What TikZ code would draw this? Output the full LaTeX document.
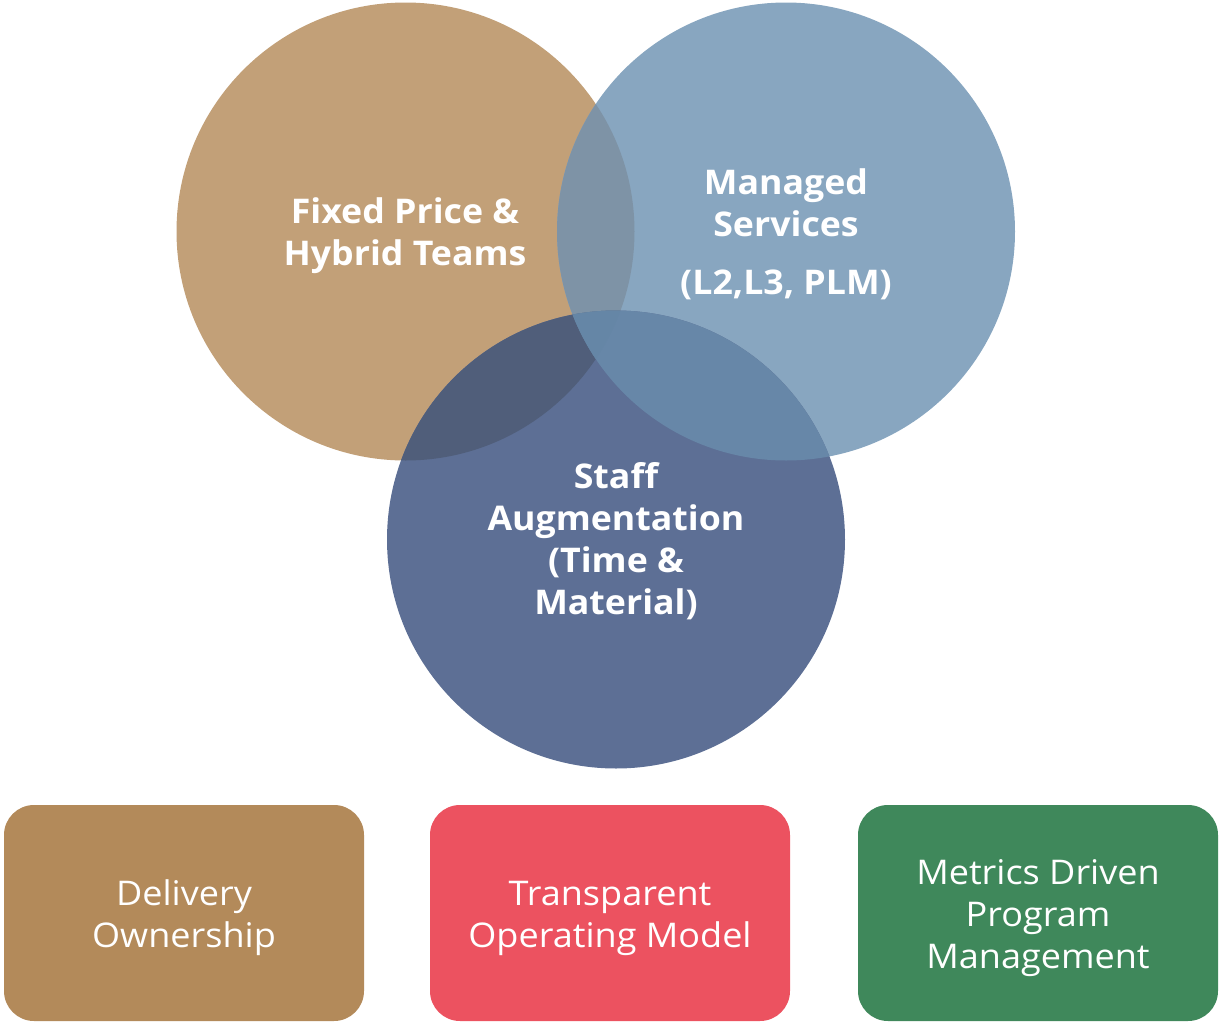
\documentclass[tikz,border=0pt]{standalone}
\usepackage{fontspec}
\setmainfont{Open Sans}[FakeStretch=1.05]
\newfontfamily\boxfont{Open Sans}[FakeStretch=1.06]
\begin{document}
\begin{tikzpicture}[x=1pt,y=-1pt,
  ctext/.style={text=white,align=center,font=\fontsize{34}{42}\selectfont\bfseries,inner sep=0pt},
  btext/.style={text=white,align=center,font=\boxfont\fontsize{34}{42}\selectfont,inner sep=0pt},
  card/.style={rounded corners=30pt,minimum width=360pt,minimum height=216pt,inner sep=0pt}]
\definecolor{tanC}{HTML}{C2A078}
\definecolor{lbC}{HTML}{88A6C0}
\definecolor{dbC}{HTML}{5D6F95}
\definecolor{tlC}{HTML}{7E93A6}
\definecolor{tdC}{HTML}{505E7A}
\definecolor{ldC}{HTML}{6787A8}
\definecolor{triC}{HTML}{6586A6}
\definecolor{box1C}{HTML}{B38A5A}
\definecolor{box2C}{HTML}{EC5260}
\definecolor{box3C}{HTML}{3F885B}
\useasboundingbox (0,0) rectangle (1219,1023);
\coordinate (c1) at (405.5,231.5);
\coordinate (c2) at (786,231.5);
\coordinate (c3) at (616,539.5);
\def\R{229}
\fill[tanC] (c1) circle (\R);
\fill[lbC] (c2) circle (\R);
\fill[dbC] (c3) circle (\R);
\begin{scope}\clip (c1) circle (\R); \fill[tlC] (c2) circle (\R);\end{scope}
\begin{scope}\clip (c1) circle (\R); \fill[tdC] (c3) circle (\R);\end{scope}
\begin{scope}\clip (c2) circle (\R); \fill[ldC] (c3) circle (\R);\end{scope}
\begin{scope}\clip (c1) circle (\R); \clip (c2) circle (\R); \fill[triC] (c3) circle (\R);\end{scope}
\node[ctext] (t1) at (405,236) {Fixed Price \&\\Hybrid Teams};
\node[ctext] (t2) at (786,234) {Managed\\Services\\[16pt](L2,L3, PLM)};
\node[ctext] (t3) at (616,541) {Staff\\Augmentation\\(Time \&\\Material)};
\node[card,fill=box1C] (b1) at (184,913) {};
\node[card,fill=box2C] (b2) at (610,913) {};
\node[card,fill=box3C] (b3) at (1038,913) {};
\node[btext] (l1) at (184,918) {Delivery\\Ownership};
\node[btext] (l2) at (610,918) {Transparent\\Operating Model};
\node[btext] (l3) at (1038,918) {Metrics Driven\\Program\\Management};
\end{tikzpicture}
\end{document}
